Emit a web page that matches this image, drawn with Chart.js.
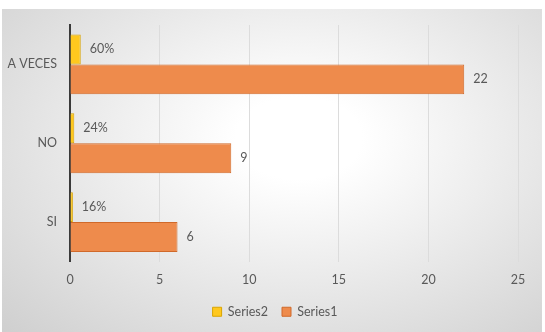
<!DOCTYPE html>
<html>
<head>
<meta charset="utf-8">
<script src="https://cdn.jsdelivr.net/npm/chart.js@4/dist/chart.umd.min.js"></script>
<style>
  html, body { margin: 0; padding: 0; background: #ffffff; }
  #panel {
    position: absolute; left: 2px; top: 9px; width: 540px; height: 323px;
    background: radial-gradient(ellipse farthest-corner at 55% 40%, #ffffff 15%, #cfcfcf 100%);
  }
  #wrap { position: absolute; left: 0; top: 0; width: 545px; height: 332px; }
</style>
</head>
<body>
<div id="panel"></div>
<div id="wrap"><canvas id="chartRespuestas" width="545" height="332"></canvas></div>
<script>
// categorias (de abajo hacia arriba) y valores
const categorias = ['SI', 'NO', 'A VECES'];
const valoresSeries1 = [6, 9, 22];
const valoresSeries2 = [0.16, 0.24, 0.60];
const ticksX = [0, 5, 10, 15, 20, 25];

const FONT = 'Lato, "Open Sans", sans-serif';
const GRIS_TEXTO = '#595959';

// etiquetas de datos al final de cada barra
const etiquetasPlugin = {
    id: 'etiquetas',
    afterDatasetsDraw(chart) {
        const ctx = chart.ctx;
        ctx.save();
        ctx.font = '12.5px ' + FONT;
        ctx.fillStyle = GRIS_TEXTO;
        ctx.textBaseline = 'middle';
        ctx.textAlign = 'left';
        chart.data.datasets.forEach((ds, i) => {
            const meta = chart.getDatasetMeta(i);
            meta.data.forEach((bar, j) => {
                const v = ds.data[j];
                const txt = ds.esPorcentaje ? Math.round(v * 100) + '%' : String(v);
                ctx.fillText(txt, bar.x + 9, bar.y);
            });
        });
        ctx.restore();
    }
};

// décaler la légende pour la centrer sur le panneau
const decalageLegende = {
    id: 'decalageLegende',
    afterLayout(chart) {
        if (chart.legend) {
            chart.legend.left += 16;
            chart.legend.right += 16;
        }
    }
};

const canvas = document.getElementById('chartRespuestas');

new Chart(canvas, {
    type: 'bar',
    data: {
        labels: categorias,
        datasets: [
            {
                label: 'Series2',
                data: valoresSeries2,
                esPorcentaje: true,
                backgroundColor: '#FFC81E',
                borderColor: '#D9A400',
                borderWidth: 1
            },
            {
                label: 'Series1',
                data: valoresSeries1,
                backgroundColor: '#EE8B4C',
                borderColor: '#D0692A',
                borderWidth: 1
            }
        ]
    },
    options: {
        indexAxis: 'y',
        responsive: false,
        animation: false,
        categoryPercentage: 0.76,
        barPercentage: 1.0,
        layout: { padding: { top: 25, right: 27, left: 0, bottom: 4 } },
        plugins: {
            legend: {
                display: true,
                position: 'bottom',
                labels: {
                    boxWidth: 9,
                    boxHeight: 9,
                    padding: 14,
                    color: GRIS_TEXTO,
                    font: { family: FONT, size: 12.5 }
                }
            },
            tooltip: { enabled: false }
        },
        scales: {
            y: {
                reverse: true,
                grid: { display: false, drawTicks: false },
                border: { display: true, color: '#3a3a3a', width: 2 },
                ticks: { color: GRIS_TEXTO, padding: 13, font: { family: FONT, size: 12.5 } },
                afterFit(scale) { scale.width = 70; }
            },
            x: {
                min: 0,
                max: 25,
                afterBuildTicks(scale) { scale.ticks = ticksX.map(v => ({ value: v })); },
                grid: { color: '#dcdcdc', drawTicks: false },
                border: { display: false },
                ticks: { color: GRIS_TEXTO, padding: 11, font: { family: FONT, size: 12.5 } },
                afterFit(scale) { scale.height = 30; }
            }
        }
    },
    plugins: [etiquetasPlugin, decalageLegende]
});
</script>
</body>
</html>
